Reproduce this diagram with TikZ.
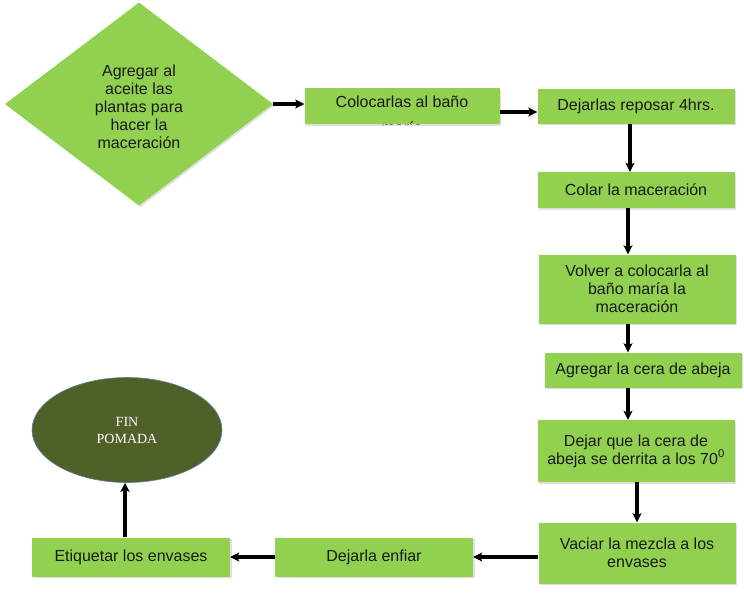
\documentclass[tikz,border=0pt]{standalone}
\usepackage{fontspec}
\setmainfont{Liberation Sans}
\newfontfamily\finfont{Liberation Serif}
\usetikzlibrary{shapes.geometric,positioning,shadows,arrows.meta}
\definecolor{verde}{RGB}{146,208,80}
\definecolor{oliva}{RGB}{79,97,40}
\definecolor{borde}{RGB}{96,128,160}
\tikzset{
  paso/.style={rectangle,fill=verde,minimum width=197pt,minimum height=36pt,inner sep=0pt,
    align=center,text=black!90,font=\fontsize{16}{18}\selectfont,
    drop shadow={shadow xshift=1.5pt,shadow yshift=-1.5pt,opacity=0.25}},
  decision/.style={diamond,fill=verde,aspect=1.32,minimum width=268pt,minimum height=203pt,
    inner sep=0pt,align=center,text=black!90,font=\fontsize{16}{18}\selectfont,
    drop shadow={shadow xshift=1.5pt,shadow yshift=-1.5pt,opacity=0.25}},
  final/.style={ellipse,fill=oliva,draw=borde,line width=0.6pt,minimum width=190pt,
    minimum height=105pt,align=center,text=white,font=\finfont\fontsize{14}{17}\selectfont},
  flecha/.style={draw=black,line width=3.2pt,-{Stealth[length=9pt,width=9pt,inset=2pt]}}
}
\begin{document}
\begin{tikzpicture}[x=1pt,y=-1pt,node distance=1pt,on grid]
\useasboundingbox (0,0) rectangle (744,605);
\node[decision](q_0) at (139,104){\rule{0pt}{18pt}Agregar al\\aceite las\\plantas para\\hacer la\\maceración};
\node[paso,minimum width=195pt,
  path picture={\node[align=center,text=black!90,font=\fontsize{16}{18}\selectfont]
    at ([yshift=-8.6pt]path picture bounding box.center){Colocarlas al baño\\[8pt]maría};}]
  (q_1)[right=263pt of q_0,yshift=-2pt]{};
\node[paso,minimum height=35pt](q_2)[right=234pt of q_1]{Dejarlas reposar 4hrs.};
\node[paso](q_3)[below=84pt of q_2]{Colar la maceración};
\node[paso,minimum height=69pt](q_4)[below=99pt of q_3,xshift=1pt]{Volver a colocarla al\\baño maría la\\maceración};
\node[paso,minimum height=35pt](q_5)[below=81pt of q_4,xshift=6pt]{Agregar la cera de abeja};
\node[paso,minimum height=62pt](q_6)[below=81pt of q_5,xshift=-7pt]{Dejar que la cera de\\abeja se derrita a los 70\textsuperscript{0}};
\node[paso,minimum height=61pt](q_7)[below=102pt of q_6,xshift=1pt]{Vaciar la mezcla a los\\envases};
\node[paso,minimum width=198pt,minimum height=39pt](q_8)[left=263pt of q_7,yshift=-4pt]{Dejarla enfiar};
\node[paso,minimum width=198pt,minimum height=39pt](q_9)[left=243pt of q_8]{Etiquetar los envases};
\node[final](q_f)[above=127pt of q_9,xshift=-4pt]{FIN\\POMADA};
\draw[flecha] (q_0.east) -- (q_0.east -| q_1.west);
\draw[flecha] ([yshift=-6pt]q_1.east) -- ([yshift=-6pt]q_2.west);
\draw[flecha] ([xshift=-6pt]q_2.south) -- ([xshift=-6pt]q_3.north);
\draw[flecha] ([xshift=-8pt]q_3.south) -- ([xshift=-9pt]q_4.north);
\draw[flecha] ([xshift=-9pt]q_4.south) -- ([xshift=-15pt]q_5.north);
\draw[flecha] ([xshift=-15pt]q_5.south) -- ([xshift=-8pt]q_6.north);
\draw[flecha] ([xshift=1pt]q_6.south) -- (q_7.north);
\draw[flecha] ([yshift=-4pt]q_7.west) -- (q_8.east);
\draw[flecha] (q_8.west) -- (q_9.east);
\draw[flecha] ([xshift=-6pt]q_9.north) -- ([xshift=-2pt]q_f.south);
\end{tikzpicture}
\end{document}
